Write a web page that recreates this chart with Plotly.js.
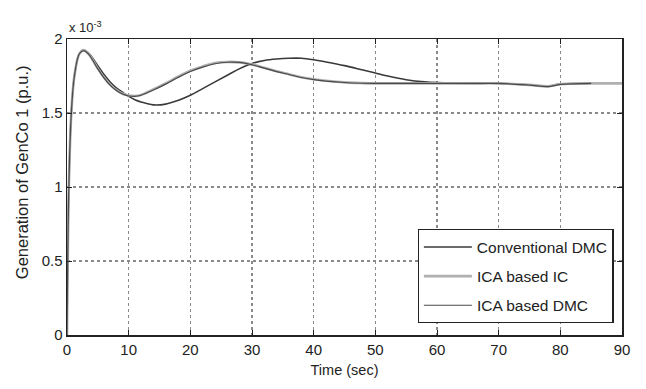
<!DOCTYPE html>
<html>
<head>
<meta charset="utf-8">
<script src="https://cdn.plot.ly/plotly-3.0.1.min.js"></script>
<style>html,body{margin:0;padding:0;background:#fff;}#chart{width:646px;height:389px;}</style>
</head>
<body>
<div id="chart"></div>
<script>
// Time (sec)
const time = [0, 0.3, 0.7, 1.2, 2, 2.7, 3.5, 4, 5, 6, 7, 8, 9, 10, 11, 12, 14, 16, 18, 20, 22, 24, 26, 28, 30, 32, 34, 36, 38, 40, 42, 45, 48, 50, 52, 55, 58, 60, 65, 70, 75, 78, 80, 85, 90];
// Generation of GenCo 1 (x 1e-3 p.u.)
const conventionalDMC = [0, 1.0, 1.5, 1.75, 1.9, 1.925, 1.905, 1.88, 1.82, 1.76, 1.71, 1.67, 1.64, 1.612, 1.59, 1.575, 1.555, 1.56, 1.585, 1.62, 1.665, 1.71, 1.755, 1.80, 1.835, 1.855, 1.865, 1.87, 1.87, 1.86, 1.845, 1.82, 1.79, 1.77, 1.75, 1.725, 1.71, 1.705, 1.70, 1.70, 1.69, 1.682, 1.695, 1.70, null];
const icaIC = [0, 1.0, 1.5, 1.75, 1.9, 1.925, 1.9, 1.87, 1.8, 1.74, 1.69, 1.655, 1.63, 1.618, 1.615, 1.622, 1.66, 1.70, 1.745, 1.785, 1.815, 1.838, 1.845, 1.842, 1.828, 1.805, 1.782, 1.762, 1.742, 1.728, 1.718, 1.707, 1.702, 1.70, 1.70, 1.70, 1.70, 1.70, 1.70, 1.70, 1.69, 1.68, 1.695, 1.70, 1.70];
const icaDMC = [0, 1.0, 1.5, 1.75, 1.9, 1.922, 1.898, 1.868, 1.798, 1.738, 1.688, 1.652, 1.628, 1.615, 1.612, 1.62, 1.655, 1.695, 1.74, 1.78, 1.81, 1.833, 1.843, 1.842, 1.826, 1.803, 1.78, 1.76, 1.74, 1.726, 1.716, 1.706, 1.701, 1.70, 1.70, 1.70, 1.70, 1.70, 1.70, 1.70, 1.688, 1.678, 1.693, 1.70, null];
const xTicks = [0, 10, 20, 30, 40, 50, 60, 70, 80, 90];
const yTicks = [0, 0.5, 1, 1.5, 2];
const yTickLabels = ['0', '0.5', '1', '1.5', '2'];

const font = 'Liberation Sans, Arial, sans-serif';

const traces = [
  {x: time, y: conventionalDMC, name: 'Conventional DMC', legendgroup: 'a', mode: 'lines', line: {color: '#3a3a3a', width: 1.6, shape: 'spline'}},
  {x: time, y: icaIC, name: 'ICA based IC', legendgroup: 'b', mode: 'lines', line: {color: '#b0b0b0', width: 2.6, shape: 'spline'}},
  {x: time, y: icaDMC, name: 'ICA based DMC', legendgroup: 'c', mode: 'lines', line: {color: '#4a4a4a', width: 1.2, shape: 'spline'}}
];

const axisCommon = {
  showline: true, mirror: 'ticks', linecolor: '#222', linewidth: 1.5,
  ticks: 'inside', ticklen: 5, tickcolor: '#222',
  showgrid: true, gridcolor: '#8a8a8a', griddash: 'dot', gridwidth: 1.2,
  zeroline: false,
  tickfont: {family: font, size: 15, color: '#222'}
};

const layout = {
  width: 646, height: 389,
  margin: {l: 67, r: 24, t: 39, b: 54},
  paper_bgcolor: '#fff', plot_bgcolor: '#fff',
  showlegend: true,
  legend: {
    x: 0.985, xanchor: 'right', y: 0.04, yanchor: 'bottom',
    bordercolor: '#222', borderwidth: 1.2, bgcolor: '#fff',
    font: {family: font, size: 15.5, color: '#222'},
    itemwidth: 48,
    tracegroupgap: 6
  },
  xaxis: Object.assign({}, axisCommon, {
    range: [0, 90], tickvals: xTicks,
    title: {text: 'Time (sec)', font: {family: font, size: 14.5, color: '#222'}, standoff: 8}
  }),
  yaxis: Object.assign({}, axisCommon, {
    range: [0, 2], tickvals: yTicks, ticktext: yTickLabels
  }),
  annotations: [{
    xref: 'paper', yref: 'paper', x: 0, y: 1, xanchor: 'left', yanchor: 'bottom', yshift: 2,
    text: 'x 10<sup>-3</sup>', showarrow: false,
    font: {family: font, size: 13, color: '#222'}
  }, {
    xref: 'paper', yref: 'paper', x: 0, y: 0.55, xanchor: 'center', yanchor: 'middle', xshift: -45,
    text: 'Generation of GenCo 1 (p.u.)', textangle: -90, showarrow: false,
    font: {family: font, size: 16.5, color: '#222'}
  }]
};

Plotly.newPlot('chart', traces, layout, {displayModeBar: false, staticPlot: true});
</script>
</body>
</html>
